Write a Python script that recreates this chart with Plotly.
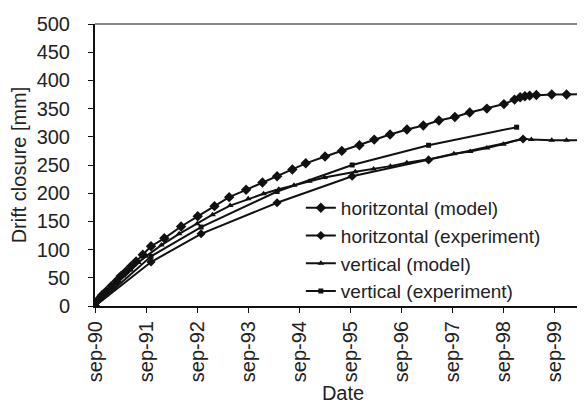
import plotly.graph_objects as go

# ---- data ----
h_model_dates = ["1990-09-01", "1990-09-23", "1990-10-21", "1990-11-20", "1990-12-26",
                 "1991-02-01", "1991-03-04", "1991-04-10", "1991-05-16", "1991-06-22",
                 "1991-08-09", "1991-10-07", "1992-01-10", "1992-05-09", "1992-09-05",
                 "1993-01-03", "1993-04-18", "1993-08-17", "1993-12-12", "1994-03-27",
                 "1994-07-14", "1994-10-18", "1995-03-05", "1995-07-03", "1995-11-06",
                 "1996-02-20", "1996-06-12", "1996-10-11", "1997-02-05", "1997-05-28",
                 "1997-09-19", "1998-01-03", "1998-05-06", "1998-09-05", "1998-11-20",
                 "1998-12-30", "1999-02-02", "1999-03-08", "1999-04-25", "1999-08-13",
                 "1999-11-27", "2000-04-18"]
h_model_vals = [0, 11, 19, 26, 35, 44, 53, 61, 70, 79, 91, 106, 120, 141, 159,
                177, 193, 206, 219, 230, 242, 253, 265, 275, 285, 295, 304, 313,
                320, 329, 335, 343, 350, 358, 366, 370, 372, 373, 374, 375, 375, 376]

h_exp_dates = ["1990-09-01", "1991-10-07", "1992-09-29", "1994-03-27",
               "1995-09-15", "1997-03-15", "1999-01-20"]
h_exp_vals = [0, 78, 128, 183, 230, 259, 296]

v_model_dates = ["1990-09-01", "1990-10-08", "1990-12-01", "1991-01-25", "1991-03-20",
                 "1991-05-14", "1991-07-08", "1991-09-01", "1991-12-20", "1992-04-25",
                 "1992-09-01", "1992-12-20", "1993-04-25", "1993-09-01", "1993-12-20",
                 "1994-04-08", "1994-07-26", "1994-11-12", "1995-03-01", "1995-10-07",
                 "1996-02-15", "1996-06-15", "1996-10-10", "1997-03-15", "1997-09-12",
                 "1998-01-06", "1998-05-06", "1998-09-01", "1999-01-20", "1999-03-20",
                 "1999-08-13", "1999-11-27", "2000-04-18"]
v_model_vals = [0, 12, 27, 40, 53, 64, 77, 88, 108, 128, 146, 162, 178, 190, 199,
                207, 214, 221, 228, 238, 243, 248, 254, 260, 270, 274, 280, 287,
                297, 295, 294, 294, 294]

v_exp_dates = ["1990-09-01", "1991-10-07", "1992-09-29", "1994-03-27",
               "1995-09-15", "1997-03-15", "1998-12-05"]
v_exp_vals = [0, 88, 140, 203, 250, 285, 317]

tick_dates = ["1990-09-01", "1991-09-01", "1992-09-01", "1993-09-01", "1994-09-01",
              "1995-09-01", "1996-09-01", "1997-09-01", "1998-09-01", "1999-09-01"]
tick_labels = ["sep-90", "sep-91", "sep-92", "sep-93", "sep-94",
               "sep-95", "sep-96", "sep-97", "sep-98", "sep-99"]
y_ticks = [0, 50, 100, 150, 200, 250, 300, 350, 400, 450, 500]

FONT = "Liberation Sans, Arial, sans-serif"
INK = "#111111"
TXT = "#222222"

fig = go.Figure()
fig.add_trace(go.Scatter(x=h_model_dates, y=h_model_vals, mode="lines+markers",
                         name="horitzontal (model)",
                         line=dict(color=INK, width=2),
                         marker=dict(symbol="diamond", size=8, color=INK)))
fig.add_trace(go.Scatter(x=h_exp_dates, y=h_exp_vals, mode="lines+markers",
                         name="horitzontal (experiment)",
                         line=dict(color=INK, width=2),
                         marker=dict(symbol="diamond", size=7, color=INK)))
fig.add_trace(go.Scatter(x=v_model_dates, y=v_model_vals, mode="lines+markers",
                         name="vertical (model)",
                         line=dict(color=INK, width=2),
                         marker=dict(symbol="triangle-up", size=6, color=INK)))
fig.add_trace(go.Scatter(x=v_exp_dates, y=v_exp_vals, mode="lines+markers",
                         name="vertical (experiment)",
                         line=dict(color=INK, width=2),
                         marker=dict(symbol="square", size=5, color=INK)))

fig.update_layout(
    width=585, height=405,
    margin=dict(l=87, r=2, t=16, b=107),
    paper_bgcolor="white", plot_bgcolor="white",
    font=dict(family=FONT, size=20, color=TXT),
    showlegend=True,
    legend=dict(x=0.415, y=0.415, xanchor="left", yanchor="top",
                bgcolor="rgba(0,0,0,0)", borderwidth=0,
                font=dict(family=FONT, size=19, color=TXT),
                tracegroupgap=0, itemwidth=30),
    xaxis=dict(type="date", range=["1990-09-01", "2000-05-20"],
               tickmode="array", tickvals=tick_dates, ticktext=tick_labels,
               tickangle=-90, ticks="outside", ticklen=5, tickcolor=INK,
               showgrid=False, zeroline=False,
               showline=True, linecolor=INK, linewidth=2,
               title=dict(text="Date", font=dict(family=FONT, size=20), standoff=0),
               tickfont=dict(family=FONT, size=20)),
    yaxis=dict(range=[0, 500], tickmode="array", tickvals=y_ticks,
               ticks="outside", ticklen=5, tickcolor=INK, ticklabelstandoff=14,
               showgrid=False, zeroline=False,
               showline=True, linecolor=INK, linewidth=2,
               title=dict(text="Drift closure [mm]", font=dict(family=FONT, size=20), standoff=6),
               tickfont=dict(family=FONT, size=20)),
    shapes=[
        dict(type="line", xref="paper", yref="paper", x0=0, x1=1, y0=1, y1=1,
             line=dict(color="#888888", width=2)),
        dict(type="line", xref="paper", yref="paper", x0=1, x1=1, y0=0, y1=1,
             line=dict(color="#bbbbbb", width=1)),
    ],
)

fig.write_html("out.html")
